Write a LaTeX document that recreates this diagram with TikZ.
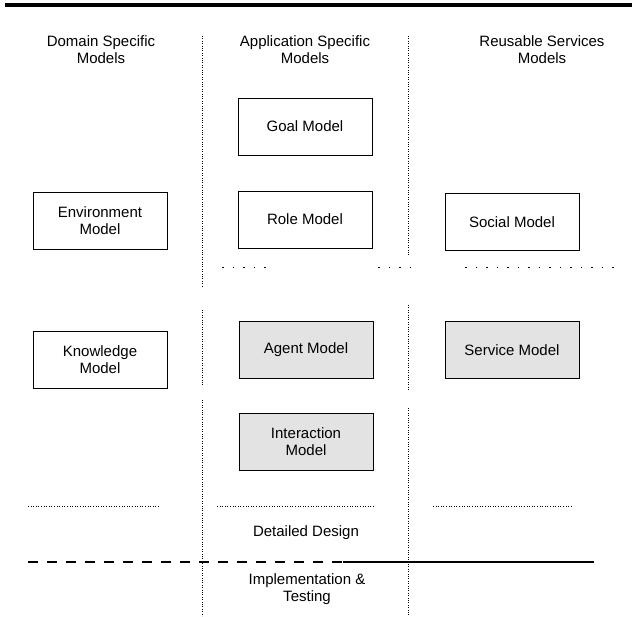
\documentclass[tikz,border=0pt]{standalone}
\usepackage{fontspec}
\setmainfont{Liberation Sans}
\begin{document}
\begin{tikzpicture}[x=1pt,y=-1pt,
  every node/.style={font=\fontsize{15}{17}\selectfont, align=center},
  model/.style={draw=black, line width=0.9pt, minimum width=134pt, minimum height=57pt, inner sep=2pt},
  shaded/.style={model, fill=gray!22},
  colsep/.style={line width=0.9pt, dash pattern=on 1pt off 1.4pt},
  rowsep/.style={line width=0.9pt, dash pattern=on 1pt off 1.6pt},
  sparse/.style={line width=1pt, dash pattern=on 1.5pt off 9pt},
  phase/.style={line width=1.1pt, dash pattern=on 10pt off 9pt}]
\useasboundingbox (0,0) rectangle (632,616);

% heavy rule across the top
\draw[line width=4pt] (5,5) -- (632,5);

% column headings
\node (h1) at (101,50) {Domain Specific\\Models};
\node (h2) at (305,50) {Application Specific\\Models};
\node (h3) at (542,50) {Reusable Services\\Models};

% column separators
\draw[colsep] (202,36) -- (202,287);
\draw[colsep] (202,310) -- (202,385);
\draw[colsep] (202,400) -- (202,616);
\draw[colsep] (408,36) -- (408,255);
\draw[colsep] (408,305) -- (408,390);
\draw[colsep] (408,408) -- (408,616);

% analysis / design boundary
\draw[sparse] (222,267) -- (272,267);
\draw[sparse] (378,267) -- (410,267);
\draw[sparse] (465,267) -- (620,267);

% models
\node[model] (goal) at (305,126.5) {Goal Model};
\node[model] (role) at (305,219.5) {Role Model};
\node[model] (env) at (100,221) {Environment\\Model};
\node[model] (social) at (512,222) {Social Model};
\node[model] (know) at (100,360) {Knowledge\\Model};
\node[shaded] (agent) at (306,350) {Agent Model};
\node[shaded] (service) at (512,350) {Service Model};
\node[shaded] (inter) at (306,441.5) {Interaction\\Model};

% detailed design band
\draw[rowsep] (28,506) -- (160,506);
\draw[rowsep] (217,506) -- (375,506);
\draw[rowsep] (433,506) -- (571,506);
\node (dd) at (306,533) {Detailed Design};

% implementation boundary
\draw[phase] (28,562) -- (343,562);
\draw[line width=1.1pt] (343,562) -- (594,562);
\node (impl) at (307,589) {Implementation \&\\Testing};
\end{tikzpicture}
\end{document}
